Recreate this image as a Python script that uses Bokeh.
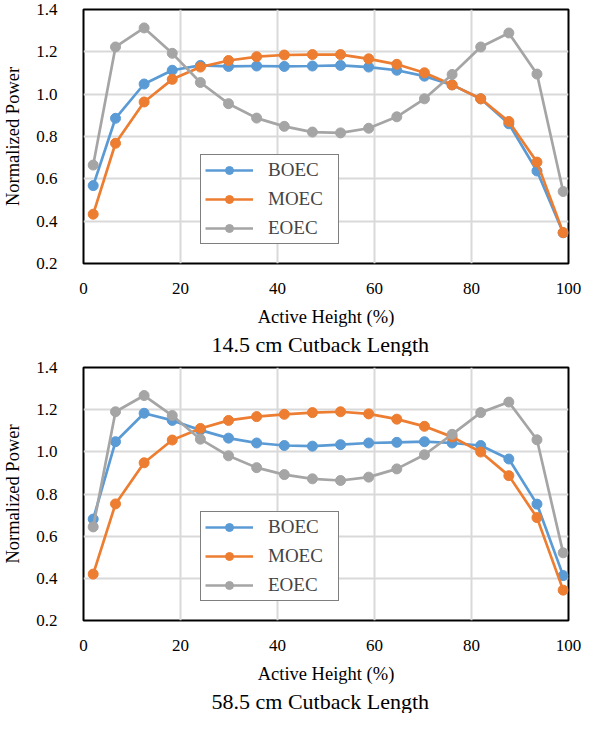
from bokeh.plotting import figure
from bokeh.layouts import column
from bokeh.models import Range1d, FixedTicker, Legend, LegendItem, Title, NumeralTickFormatter
from bokeh.embed import file_html
from bokeh.resources import INLINE

# Data
height_pct = [2.0, 6.6, 12.5, 18.3, 24.1, 29.9, 35.7, 41.4, 47.2, 53.0,
              58.8, 64.6, 70.3, 76.0, 81.9, 87.7, 93.5, 98.9]

top_boec = [0.568, 0.886, 1.048, 1.113, 1.136, 1.131, 1.133, 1.131, 1.133, 1.136,
            1.128, 1.113, 1.085, 1.044, 0.978, 0.860, 0.637, 0.345]
top_moec = [0.433, 0.768, 0.963, 1.070, 1.128, 1.159, 1.177, 1.185, 1.187, 1.187,
            1.167, 1.141, 1.101, 1.044, 0.978, 0.871, 0.679, 0.346]
top_eoec = [0.665, 1.223, 1.313, 1.193, 1.055, 0.955, 0.887, 0.848, 0.821, 0.817,
            0.839, 0.893, 0.978, 1.093, 1.223, 1.289, 1.095, 0.540]

bot_boec = [0.681, 1.048, 1.183, 1.149, 1.103, 1.065, 1.042, 1.030, 1.027, 1.034,
            1.042, 1.045, 1.048, 1.042, 1.030, 0.966, 0.752, 0.413]
bot_moec = [0.420, 0.753, 0.948, 1.056, 1.111, 1.149, 1.167, 1.178, 1.186, 1.190,
            1.180, 1.155, 1.121, 1.071, 0.999, 0.887, 0.688, 0.344]
bot_eoec = [0.644, 1.190, 1.267, 1.172, 1.060, 0.981, 0.925, 0.892, 0.872, 0.864,
            0.880, 0.919, 0.986, 1.083, 1.186, 1.236, 1.057, 0.521]

series_names = ["BOEC", "MOEC", "EOEC"]
series_colors = ["#5B9BD5", "#ED7D31", "#A5A5A5"]
x_ticks = [0, 20, 40, 60, 80, 100]
y_ticks = [0.2, 0.4, 0.6, 0.8, 1.0, 1.2, 1.4]
titles = ["14.5 cm Cutback Length", "58.5 cm Cutback Length"]

FONT = "Liberation Serif"


def make_chart(title, series, height, border_top, border_bottom):
    p = figure(width=581, height=height, output_backend="svg", toolbar_location=None,
               x_range=Range1d(0, 100), y_range=Range1d(0.2, 1.4),
               min_border_left=82, min_border_right=13,
               min_border_top=border_top, min_border_bottom=border_bottom)
    p.background_fill_color = "white"
    p.border_fill_color = "white"
    p.outline_line_color = "black"
    p.outline_line_width = 2

    xax = p.xaxis[0]
    yax = p.yaxis[0]
    xax.ticker = FixedTicker(ticks=x_ticks)
    yax.ticker = FixedTicker(ticks=y_ticks)
    yax.formatter = NumeralTickFormatter(format="0.0")
    for ax in (xax, yax):
        ax.axis_line_color = None
        ax.major_tick_line_color = None
        ax.minor_tick_line_color = None
        ax.major_label_text_font = FONT
        ax.major_label_text_font_size = "17px"
        ax.major_label_text_color = "black"
        ax.axis_label_text_font = FONT
        ax.axis_label_text_font_size = "18.5px"
        ax.axis_label_text_font_style = "normal"
        ax.axis_label_text_color = "black"
    xax.axis_label = "Active Height (%)"
    yax.axis_label = "Normalized Power"
    xax.major_label_standoff = 13
    xax.axis_label_standoff = 10
    yax.major_label_standoff = 20
    yax.axis_label_standoff = 10

    p.grid.grid_line_color = "#d9d9d9"
    p.grid.grid_line_width = 2

    items = []
    for name, color, vals in zip(series_names, series_colors, series):
        l = p.line(height_pct, vals, line_color=color, line_width=2.7)
        s = p.scatter(height_pct, vals, size=10, fill_color=color, line_color=color)
        items.append(LegendItem(label=name, renderers=[l, s]))

    legend = Legend(items=items, location=(117, 19), margin=0, padding=4, spacing=7,
                    glyph_width=48, glyph_height=20, label_height=20, label_width=66,
                    label_standoff=15, label_text_font=FONT, label_text_font_size="19px",
                    border_line_color="black", border_line_width=1.5,
                    background_fill_color="white", background_fill_alpha=1.0)
    p.add_layout(legend)

    t = Title(text=title, align="left", offset=128, standoff=0,
              text_font=FONT, text_font_size="22px", text_font_style="normal",
              text_color="black")
    p.add_layout(t, "below")
    return p


p1 = make_chart(titles[0], [top_boec, top_moec, top_eoec], 356, 9, 90)
p2 = make_chart(titles[1], [bot_boec, bot_moec, bot_eoec], 357, 11, 88)

layout = column(p1, p2, spacing=0)
open("out.html", "w").write(file_html(layout, INLINE))
